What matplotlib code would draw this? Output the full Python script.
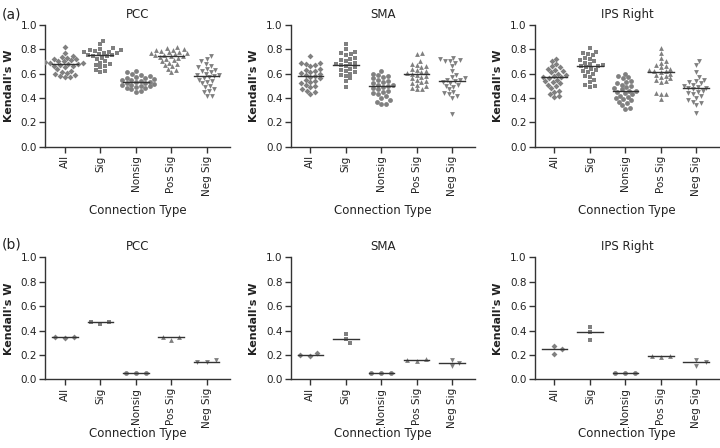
import numpy as np
import matplotlib
matplotlib.use('Agg')
import matplotlib.pyplot as plt

categories = ['All', 'Sig', 'Nonsig', 'Pos Sig', 'Neg Sig']
regions    = ['PCC', 'SMA', 'IPS Right']
markers    = ['D', 's', 'o', '^', 'v']

# (a) Kendall's W per subject
pcc_a = [
    [0.82, 0.77, 0.745, 0.735, 0.73, 0.72, 0.715, 0.71, 0.705, 0.70, 0.695, 0.69, 0.685, 0.68,
     0.675, 0.67, 0.665, 0.66, 0.65, 0.635, 0.625, 0.615, 0.605, 0.60, 0.59, 0.58, 0.575, 0.57],
    [0.87, 0.84, 0.805, 0.80, 0.795, 0.79, 0.785, 0.78, 0.775, 0.77, 0.765, 0.76, 0.755, 0.75,
     0.745, 0.74, 0.73, 0.72, 0.70, 0.69, 0.68, 0.67, 0.66, 0.65, 0.63, 0.62, 0.61],
    [0.62, 0.61, 0.60, 0.59, 0.58, 0.575, 0.565, 0.56, 0.555, 0.55, 0.545, 0.54, 0.535, 0.53,
     0.525, 0.52, 0.515, 0.51, 0.505, 0.50, 0.495, 0.49, 0.485, 0.48, 0.47, 0.46, 0.45],
    [0.82, 0.81, 0.80, 0.795, 0.79, 0.785, 0.78, 0.775, 0.77, 0.765, 0.76, 0.755, 0.75, 0.745,
     0.74, 0.735, 0.73, 0.72, 0.71, 0.70, 0.69, 0.68, 0.67, 0.66, 0.64, 0.63, 0.61],
    [0.74, 0.72, 0.70, 0.68, 0.665, 0.65, 0.64, 0.63, 0.62, 0.61, 0.60, 0.59, 0.585, 0.58,
     0.57, 0.56, 0.55, 0.54, 0.53, 0.52, 0.50, 0.49, 0.47, 0.46, 0.45, 0.42, 0.42],
]
sma_a = [
    [0.74, 0.69, 0.685, 0.68, 0.67, 0.66, 0.64, 0.63, 0.62, 0.61, 0.605, 0.60, 0.59, 0.58,
     0.57, 0.56, 0.55, 0.54, 0.53, 0.52, 0.51, 0.50, 0.49, 0.47, 0.46, 0.45, 0.43],
    [0.84, 0.80, 0.78, 0.77, 0.76, 0.75, 0.73, 0.72, 0.71, 0.70, 0.69, 0.68, 0.675, 0.67,
     0.66, 0.65, 0.64, 0.63, 0.62, 0.61, 0.60, 0.59, 0.58, 0.56, 0.54, 0.49],
    [0.62, 0.60, 0.59, 0.58, 0.57, 0.56, 0.55, 0.54, 0.53, 0.52, 0.51, 0.505, 0.50, 0.49,
     0.48, 0.47, 0.46, 0.45, 0.44, 0.43, 0.42, 0.40, 0.38, 0.37, 0.355, 0.35],
    [0.77, 0.76, 0.70, 0.68, 0.67, 0.66, 0.65, 0.64, 0.63, 0.62, 0.61, 0.605, 0.60, 0.59,
     0.58, 0.57, 0.56, 0.55, 0.54, 0.53, 0.52, 0.51, 0.50, 0.48, 0.47, 0.475],
    [0.73, 0.72, 0.71, 0.705, 0.70, 0.69, 0.66, 0.62, 0.59, 0.57, 0.56, 0.55, 0.545, 0.54,
     0.53, 0.52, 0.51, 0.50, 0.49, 0.47, 0.45, 0.44, 0.43, 0.42, 0.40, 0.27],
]
ips_a = [
    [0.72, 0.70, 0.68, 0.66, 0.65, 0.64, 0.63, 0.62, 0.61, 0.60, 0.59, 0.58, 0.575, 0.57,
     0.56, 0.55, 0.54, 0.53, 0.52, 0.51, 0.50, 0.48, 0.46, 0.45, 0.43, 0.42, 0.41],
    [0.81, 0.78, 0.77, 0.76, 0.75, 0.73, 0.72, 0.71, 0.70, 0.69, 0.68, 0.67, 0.665, 0.66,
     0.65, 0.64, 0.63, 0.62, 0.61, 0.60, 0.58, 0.57, 0.55, 0.53, 0.51, 0.50, 0.49],
    [0.60, 0.58, 0.57, 0.56, 0.54, 0.53, 0.52, 0.51, 0.50, 0.49, 0.48, 0.47, 0.46, 0.455,
     0.45, 0.44, 0.43, 0.42, 0.41, 0.40, 0.39, 0.38, 0.37, 0.36, 0.34, 0.32, 0.31],
    [0.81, 0.77, 0.73, 0.70, 0.69, 0.67, 0.66, 0.65, 0.64, 0.63, 0.625, 0.62, 0.61, 0.60,
     0.59, 0.58, 0.57, 0.56, 0.55, 0.54, 0.53, 0.44, 0.43, 0.43, 0.39],
    [0.70, 0.67, 0.61, 0.57, 0.55, 0.54, 0.53, 0.52, 0.51, 0.50, 0.49, 0.485, 0.48, 0.47,
     0.46, 0.45, 0.44, 0.43, 0.42, 0.40, 0.38, 0.37, 0.36, 0.34, 0.28],
]

# (b) three values per category
pcc_b = [[0.34, 0.35, 0.35], [0.455, 0.47, 0.47], [0.055, 0.055, 0.055],
         [0.325, 0.345, 0.345], [0.145, 0.16, 0.145]]
sma_b = [[0.195, 0.22, 0.20], [0.33, 0.37, 0.30], [0.055, 0.055, 0.055],
         [0.15, 0.165, 0.155], [0.11, 0.16, 0.135]]
ips_b = [[0.27, 0.21, 0.25], [0.39, 0.43, 0.325], [0.055, 0.055, 0.055],
         [0.18, 0.195, 0.195], [0.11, 0.155, 0.145]]

panels = [[pcc_a, sma_a, ips_a], [pcc_b, sma_b, ips_b]]

GREY = '#808080'
DARK = '#333333'
TXT  = '#222222'
W, H = 720, 448
lefts   = [0.063, 0.404, 0.743]
bottoms = [0.672, 0.153]
aw, ah  = 0.256, 0.273
XLIM    = (-0.55, 4.65)

def swarm(vals, dx_px, dy_px, px_per_x, px_per_y, order_sorted=True):
    # simple beeswarm: place points at smallest |x| offset without ellipse overlap
    ys = np.array(vals) * px_per_y
    idx = np.argsort(ys) if order_sorted else np.arange(len(ys))
    xs = np.zeros(len(ys))
    placed = []
    for i in idx:
        y = ys[i]
        cands = [0.0]
        for (px, py) in placed:
            d = abs(py - y)
            if d < dy_px:
                off = dx_px * np.sqrt(1 - (d / dy_px) ** 2)
                cands += [px + off + 1e-6, px - off - 1e-6]
        cands.sort(key=lambda c: (abs(c), -c))
        for c in cands:
            ok = True
            for (px, py) in placed:
                if ((c - px) / dx_px) ** 2 + ((y - py) / dy_px) ** 2 < 0.999:
                    ok = False
                    break
            if ok:
                xs[i] = c
                break
        placed.append((xs[i], y))
    return xs / px_per_x

fig = plt.figure(figsize=(7.2, 4.48), dpi=100)
px_per_x = aw * W / (XLIM[1] - XLIM[0])
px_per_y = ah * H

for r in range(2):
    for c in range(3):
        ax = fig.add_axes([lefts[c], bottoms[r], aw, ah])
        data = panels[r][c]
        for k, vals in enumerate(data):
            if r == 0:
                offs = swarm(vals, 5.2, 4.6, px_per_x, px_per_y)
            else:
                offs = swarm(vals, 10.0, 4.0, px_per_x, px_per_y, order_sorted=False)
            ms = 9 if markers[k] == 'D' else 12
            ax.scatter(k + offs, vals, s=ms, marker=markers[k], color=GREY,
                       linewidths=0, zorder=3)
            med = np.median(vals)
            ax.plot([k - 0.36, k + 0.36], [med, med], color=DARK, lw=1.0, zorder=4)
        ax.set_xlim(*XLIM)
        ax.set_ylim(0, 1.0)
        ax.set_yticks(np.arange(0, 1.01, 0.2))
        ax.set_yticklabels(['%.1f' % v for v in np.arange(0, 1.01, 0.2)])
        ax.set_xticks(range(len(categories)))
        ax.set_xticklabels(categories, rotation=90)
        ax.spines['top'].set_visible(False)
        ax.spines['right'].set_visible(False)
        for s in ['left', 'bottom']:
            ax.spines[s].set_color(DARK)
            ax.spines[s].set_linewidth(1.0)
        ax.tick_params(direction='out', length=4, width=1.0, color=DARK,
                       labelsize=7.5, labelcolor=TXT, pad=2)
        ax.set_title(regions[c], fontsize=8.5, color=TXT, pad=5)
        ax.set_ylabel("Kendall's W", fontsize=8, fontweight='bold', color=TXT, labelpad=5)
        ax.set_xlabel('Connection Type', fontsize=8.5, color=TXT,
                      labelpad=6 if r == 0 else -1)

fig.text(0.003, 0.967, '(a)', fontsize=10, color=TXT, va='center')
fig.text(0.003, 0.455, '(b)', fontsize=10, color=TXT, va='center')

fig.savefig('out.png', dpi=100)
